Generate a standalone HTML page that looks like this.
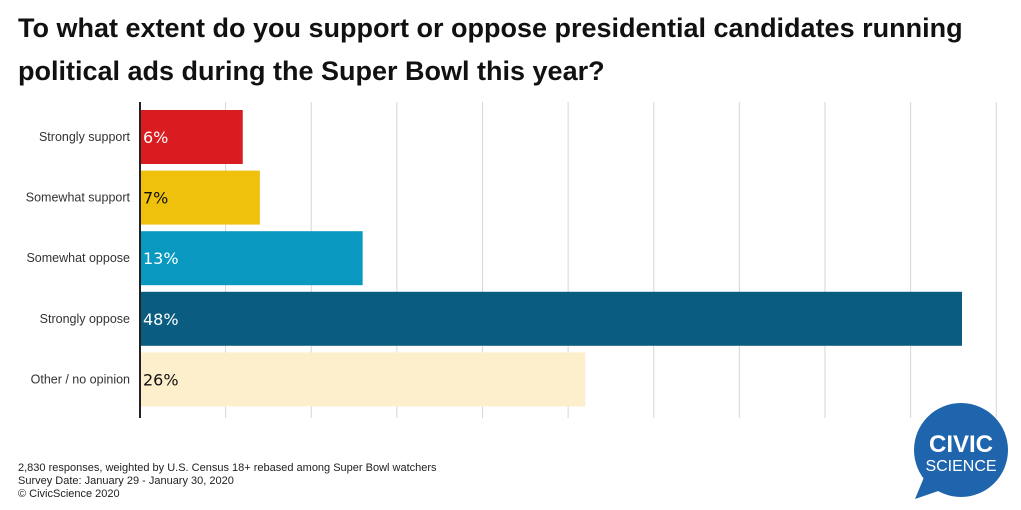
<!DOCTYPE html>
<html><head><meta charset="utf-8"><style>
body{margin:0;width:1021px;height:510px;background:#fff;font-family:"DejaVu Sans","Liberation Sans",sans-serif;overflow:hidden;position:relative}
h1{position:absolute;left:18px;top:7px;margin:0;font:bold 27px/43px "Liberation Sans",sans-serif;color:#111;width:1000px;white-space:nowrap}
.foot{position:absolute;left:18px;top:462px;font:11px/13px "Liberation Sans",sans-serif;color:#222}
</style></head><body>
<h1>To what extent do you support or oppose presidential candidates running<br>political ads during the Super Bowl this year?</h1>
<svg id="c" width="1021" height="510" style="position:absolute;left:0;top:0"></svg>
<div class="foot">2,830 responses, weighted by U.S. Census 18+ rebased among Super Bowl watchers<br>Survey Date: January 29 - January 30, 2020<br>© CivicScience 2020</div>
<svg width="110" height="110" style="position:absolute;left:905px;top:398px">
<circle cx="56" cy="52" r="47" fill="#1f65ad"/>
<polygon points="10,101 22,72 42,90" fill="#1f65ad"/>
<text x="56" y="54" text-anchor="middle" fill="#fff" font-family="Liberation Sans,sans-serif" font-weight="bold" font-size="24">CIVIC</text>
<text x="56" y="73" text-anchor="middle" fill="#fff" font-family="Liberation Sans,sans-serif" font-size="16">SCIENCE</text>
</svg>
<script>
const categories=["Strongly support","Somewhat support","Somewhat oppose","Strongly oppose","Other / no opinion"];
const values=[6,7,13,48,26];
const colors=["#d91c1f","#efc10d","#0898c0","#0a5c80","#fdefcc"];
const textColors=["#fff","#111","#fff","#fff","#111"];
const ticks=[0,5,10,15,20,25,30,35,40,45,50];
const svg=document.getElementById('c');const NS='http://www.w3.org/2000/svg';
const x0=140,k=17.125,top0=102,bottom=418,step=60.6,bh=54,firstY=110;
const X=v=>x0+v*k;
function mk(t,a){const e=document.createElementNS(NS,t);for(const q in a)e.setAttribute(q,a[q]);svg.appendChild(e);return e;}
ticks.forEach(t=>{if(t===0)return;const l=mk('line',{x1:X(t),x2:X(t),y1:top0,y2:bottom,stroke:'#d6d6d6','stroke-width':1});

});
categories.forEach((c,i)=>{const y=firstY+i*step;
const r=mk('rect',{x:x0,y:y,width:values[i]*k,height:bh,fill:colors[i]});


const lb=mk('text',{x:130,y:y+bh/2+4,'text-anchor':'end','font-size':12.5,'font-family':'Liberation Sans,sans-serif',fill:'#333'});lb.textContent=c;


const v=mk('text',{x:x0+3,y:y+bh/2+6,'font-size':16,fill:textColors[i]});v.textContent=values[i]+'%';

});
const ax=mk('line',{x1:x0,x2:x0,y1:top0,y2:bottom,stroke:'#222','stroke-width':2});


</script>
</body></html>
